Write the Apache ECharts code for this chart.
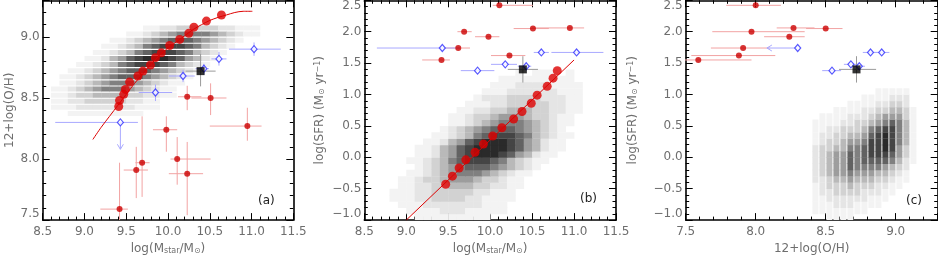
<!DOCTYPE html>
<html><head><meta charset="utf-8">
<script src="https://cdn.jsdelivr.net/npm/echarts@6/dist/echarts.min.js"></script>
<style>html,body{margin:0;padding:0;background:#fff}#c{width:938px;height:260px}</style>
</head><body><div id="c"></div>
<script>
// ---------------- data ----------------
const massTickLabels = ['8.5','9.0','9.5','10.0','10.5','11.0','11.5'];
const ohTickLabels = ['7.5','8.0','8.5','9.0'];
const sfrTickLabels = ['\u22121.0','\u22120.5','0.0','0.5','1.0','1.5','2.0','2.5'];

// (a) fit curve and binned medians
const fitMassA = [9.10,9.20,9.30,9.40,9.50,9.60,9.70,9.80,9.90,10.00,10.10,10.20,10.30,10.40,10.50,10.60,10.70,10.80,10.90,11.01];
const fitOHA   = [8.16,8.26,8.35,8.44,8.53,8.62,8.70,8.78,8.85,8.91,8.96,9.01,9.06,9.10,9.135,9.16,9.18,9.20,9.21,9.21];
const binMassA = [9.41,9.42,9.47,9.49,9.54,9.64,9.70,9.79,9.85,9.92,10.02,10.14,10.25,10.31,10.46,10.64];
const binOHA   = [8.43,8.48,8.53,8.57,8.63,8.68,8.72,8.77,8.83,8.87,8.93,8.98,9.03,9.08,9.13,9.18];

// (b) fit line and binned medians
const fitMassB = [9.0, 11.0];
const fitSfrB  = [-1.0, 1.55];
const binMassB = [9.47,9.55,9.63,9.71,9.82,9.92,10.03,10.14,10.28,10.38,10.49,10.56,10.68,10.75,10.80];
const binSfrB  = [-0.43,-0.30,-0.17,-0.04,0.08,0.21,0.34,0.47,0.61,0.73,0.86,0.99,1.13,1.26,1.38];

// red sample
const redMass   = [10.23,10.51,10.95,9.98,10.11,9.69,9.62,10.23,9.42];
const redMassLo = [10.12,10.28,10.50,9.82,10.03,9.61,9.47,10.01,9.19];
const redMassHi = [10.40,10.70,11.12,10.11,10.51,9.78,9.76,10.42,9.52];
const redOH     = [8.51,8.50,8.27,8.24,8.00,7.97,7.91,7.88,7.59];
const redOHLo   = [8.40,8.36,8.15,8.06,7.79,7.69,7.68,7.54,7.30];
const redOHHi   = [8.60,8.62,8.42,8.35,8.18,8.35,8.10,8.14,7.97];
const redSFR    = [null,2.05,2.06,1.92,2.42,2.00,1.74,1.62,1.55];

// blue sample
const blueMass   = [9.43,9.85,10.18,10.43,10.61,11.03];
const blueMassLo = [8.65,9.65,10.01,10.33,10.52,10.73];
const blueMassHi = [9.64,10.05,10.32,10.49,10.70,11.35];
const blueOH     = [8.30,8.545,8.68,8.74,8.82,8.90];
const blueOHLo   = [8.08,8.475,8.63,8.69,8.765,8.845];
const blueOHHi   = [null,8.61,8.73,8.78,8.877,8.955];
const blueOHUpper = [1,0,0,0,0,0];
const blueSFR    = [1.74,1.38,1.48,1.45,1.67,1.67];

// black reference point
const refMass = [10.39], refMassLo = [10.21], refMassHi = [10.57];
const refOH = [8.72], refOHLo = [8.595], refOHHi = [8.86];
const refSFR = [1.40], refSFRLo = [1.19], refSFRHi = [1.61];

// density maps (digit = grey level 0..9)
// (a): rows = 12+log(O/H) bins from 8.35 step 0.05; columns = mass bins from 8.6 step 0.1
const densA = [
"00111111111000000000000000",
"11122222221110000000000000",
"11223333322110000000000000",
"11233444433221100000000000",
"11234566654321100000000000",
"01123456665432110000000000",
"01123456777654321000000000",
"00112345677765432100000000",
"00011234678887643210000000",
"00001124578999875421000000",
"00000112346788876432100000",
"00000011234678887643210000",
"00000001123456777654321000",
"00000000011234566665432110",
"00000000000112233333221110"];
// (b): rows = log SFR bins from -1.0 step 0.1; columns = mass bins from 8.6 step 0.1
const densB = [
"0000011111111100000000000000",
"0000111122211111000000000000",
"0001112222222111000000000000",
"0011122333322111100000000000",
"0011122333332211100000000000",
"0001122334443322110000000000",
"0001123345554332110000000000",
"0000112345666543211000000000",
"0000012345677765432100000000",
"0000112346788876432110000000",
"0000011245789998754211000000",
"0000011245789999875421100000",
"0000001124578999875421100000",
"0000000112346788876432110000",
"0000000012345677765432100000",
"0000000001123456665432110000",
"0000000001123345554332110000",
"0000000000112233444332211000",
"0000000000011122333332211000",
"0000000000001222333322211000",
"0000000000000111222222111000",
"0000000000000011122221111000",
"0000000000000001111111110000",
"0000000000000000010111010000"];
// (c): columns = 12+log(O/H) bins from 8.40 step 0.05; chars = log SFR bins from -1.0 step 0.1
const densC = [
"011111222222111100000",
"011122233333221110000",
"111223344443322110000",
"112233455554332111000",
"112233455554433211000",
"112234567776543221100",
"011233456666543321100",
"011223456777654322110",
"001123456788876432110",
"001122346788887543211",
"000112345789998653211",
"000011234678888754321",
"000001123455666654321",
"000000112233444433221",
"000000000111111111000"];

// ---------------- chart ----------------
const greys = ['#ffffff','#f3f3f3','#e5e5e5','#d2d2d2','#b9b9b9','#9d9d9d','#808080','#626262','#454545','#2a2a2a'];
const labelColor = '#6e6e6e';
const FONT = 'DejaVu Sans';

function densityData(strings, x0, dx, y0, dy, byRow) {
  const out = [];
  strings.forEach((s, i) => {
    for (let j = 0; j < s.length; j++) {
      const lv = +s[j];
      if (!lv) continue;
      const xi = byRow ? j : i, yi = byRow ? i : j;
      out.push([x0 + xi*dx, x0 + (xi+1)*dx, y0 + yi*dy, y0 + (yi+1)*dy, lv]);
    }
  });
  return out;
}
function densitySeries(gi, data, fx, fy) {
  return {
    type: 'custom', xAxisIndex: gi*2, yAxisIndex: gi*2, clip: true, z: 1, silent: true,
    encode: {x: [0,1], y: [2,3]}, data,
    renderItem(params, api) {
      const a = api.coord([api.value(0), api.value(3)]);
      const b = api.coord([api.value(1), api.value(2)]);
      const w = b[0]-a[0], h = b[1]-a[1];
      return {type: 'rect', shape: {x: a[0] + w*(1-fx)/2, y: a[1] + h*(1-fy)/2, width: w*fx + 0.4, height: h*fy + 0.4},
              style: {fill: greys[api.value(4)]}};
    }
  };
}
const nn = v => (v == null ? NaN : v);
function errSeries(gi, items, color, z) {
  return {
    type: 'custom', xAxisIndex: gi*2, yAxisIndex: gi*2, clip: true, z, silent: true,
    encode: {x: 0, y: 1}, data: items,
    renderItem(params, api) {
      const x = api.value(0), y = api.value(1);
      const xlo = api.value(2), xhi = api.value(3), ylo = api.value(4), yhi = api.value(5), arrow = api.value(6);
      const ch = [];
      const seg = (p, q) => ch.push({type: 'line', shape: {x1: p[0], y1: p[1], x2: q[0], y2: q[1]}, style: {stroke: color, lineWidth: 1}});
      if (!isNaN(xlo)) seg(api.coord([xlo, y]), api.coord([isNaN(xhi) ? x : xhi, y]));
      if (!isNaN(ylo)) seg(api.coord([x, ylo]), api.coord([x, isNaN(yhi) ? y : yhi]));
      if (arrow === 1) { const t = api.coord([x, ylo]); seg([t[0]-3, t[1]-5], t); seg([t[0]+3, t[1]-5], t); }
      if (arrow === 2) { const t = api.coord([xlo, y]); seg([t[0]+5, t[1]-3], t); seg([t[0]+5, t[1]+3], t); }
      return {type: 'group', children: ch};
    }
  };
}
const zip = (a, b) => a.map((v, i) => [v, b[i]]);

// error bar items per panel: [x, y, xlo, xhi, ylo, yhi, arrow]
const redErrA = redMass.map((m, i) => [m, redOH[i], redMassLo[i], redMassHi[i], redOHLo[i], redOHHi[i], 0]);
const redErrB = redMass.map((m, i) => [m, nn(redSFR[i]), redMassLo[i], redMassHi[i], NaN, NaN, 0]).filter(d => !isNaN(d[1]));
const redErrC = redOH.map((o, i) => [o, nn(redSFR[i]), redOHLo[i], redOHHi[i], NaN, NaN, 0]).filter(d => !isNaN(d[1]));
const blueErrA = blueMass.map((m, i) => [m, blueOH[i], blueMassLo[i], blueMassHi[i], blueOHLo[i], nn(blueOHHi[i]), blueOHUpper[i] ? 1 : 0]);
const blueErrB = blueMass.map((m, i) => [m, blueSFR[i], blueMassLo[i], blueMassHi[i], NaN, NaN, 0]);
const blueErrC = blueOH.map((o, i) => [o, blueSFR[i], blueOHLo[i], nn(blueOHHi[i]), NaN, NaN, blueOHUpper[i] ? 2 : 0]);
const refErrA = refMass.map((m, i) => [m, refOH[i], refMassLo[i], refMassHi[i], refOHLo[i], refOHHi[i], 0]);
const refErrB = refMass.map((m, i) => [m, refSFR[i], refMassLo[i], refMassHi[i], refSFRLo[i], refSFRHi[i], 0]);
const refErrC = refOH.map((o, i) => [o, refSFR[i], refOHLo[i], refOHHi[i], refSFRLo[i], refSFRHi[i], 0]);

const RED = '#cc0000', REDERR = '#f2a3a3', BLUE = '#2e2eff', BLUEERR = '#a9a9ff', REFERR = '#9a9a9a';

function pts(gi, data, opts) {
  return Object.assign({type: 'scatter', xAxisIndex: gi*2, yAxisIndex: gi*2, data, silent: true}, opts);
}

const richName = {
  t: {fontSize: 12, color: labelColor, fontFamily: FONT},
  s: {fontSize: 8, color: labelColor, fontFamily: FONT, verticalAlign: 'bottom', lineHeight: 9},
  p: {fontSize: 8, color: labelColor, fontFamily: FONT, verticalAlign: 'top', lineHeight: 9}
};

function mkAxis(dim, gi, min, max, labels, side, name, nameGap, extra) {
  const main = side === 'bottom' || side === 'left';
  const ax = {
    type: 'value', gridIndex: gi, min, max, interval: 0.5, position: side,
    axisLine: {onZero: false, lineStyle: {color: '#000', width: 1.6}},
    axisTick: {inside: true, length: 7, lineStyle: {color: '#000', width: 1}},
    minorTick: {show: true, splitNumber: 5, length: 3.5, lineStyle: {color: '#000', width: 1}},
    splitLine: {show: false}, minorSplitLine: {show: false},
    axisLabel: {show: main, color: labelColor, fontFamily: FONT, fontSize: 12,
      margin: dim === 'x' ? 6 : 3, showMaxLabel: extra && extra.hideMax ? false : null,
      formatter: v => { const k = Math.round((v - min) / 0.5); return Math.abs(min + k*0.5 - v) < 1e-6 ? (labels[k] || '') : ''; }}
  };
  if (dim === 'y' && main) {
    ax.axisLabel.verticalAlignMinLabel = 'bottom';
    ax.axisLabel.verticalAlignMaxLabel = 'top';
  }
  if (main && name) {
    ax.name = name; ax.nameLocation = 'middle'; ax.nameGap = nameGap;
    ax.nameTextStyle = {color: labelColor, fontFamily: FONT, fontSize: 12, rich: richName};
  }
  return ax;
}

const massName = '{t|log(M}{s|star}{t|/M}{s|\u2299}{t|)}';
const sfrName = '{t|log(SFR) (M}{s|\u2299}{t| yr}{p|\u22121}{t|)}';
const ohName = '{t|12+log(O/H)}';

const option = {
  animation: false,
  textStyle: {fontFamily: FONT},
  grid: [
    {left: 42.7, top: 0.3, width: 250.6, height: 224},
    {left: 364.3, top: 0.3, width: 251.7, height: 224},
    {left: 685.7, top: 0.3, width: 252, height: 224}
  ],
  xAxis: [
    mkAxis('x', 0, 8.5, 11.5, massTickLabels, 'bottom', massName, 22),
    mkAxis('x', 0, 8.5, 11.5, massTickLabels, 'top'),
    mkAxis('x', 1, 8.5, 11.5, massTickLabels, 'bottom', massName, 22),
    mkAxis('x', 1, 8.5, 11.5, massTickLabels, 'top'),
    mkAxis('x', 2, 7.5, 9.3, ohTickLabels, 'bottom', ohName, 22, {hideMax: true}),
    mkAxis('x', 2, 7.5, 9.3, ohTickLabels, 'top')
  ],
  yAxis: [
    mkAxis('y', 0, 7.5, 9.3, ohTickLabels, 'left', ohName, 27, {hideMax: true}),
    mkAxis('y', 0, 7.5, 9.3, ohTickLabels, 'right'),
    mkAxis('y', 1, -1.0, 2.5, sfrTickLabels, 'left', sfrName, 38),
    mkAxis('y', 1, -1.0, 2.5, sfrTickLabels, 'right'),
    mkAxis('y', 2, -1.0, 2.5, sfrTickLabels, 'left', sfrName, 47),
    mkAxis('y', 2, -1.0, 2.5, sfrTickLabels, 'right')
  ],
  graphic: [
    {type: 'text', left: 258, top: 195, style: {text: '(a)', font: '12px "DejaVu Sans"', fill: '#222'}},
    {type: 'text', left: 580, top: 193, style: {text: '(b)', font: '12px "DejaVu Sans"', fill: '#222'}},
    {type: 'text', left: 906, top: 195, style: {text: '(c)', font: '12px "DejaVu Sans"', fill: '#222'}}
  ],
  series: [
    // panel (a)
    densitySeries(0, densityData(densA, 8.6, 0.1, 8.35, 0.05, true), 1, 0.75),
    errSeries(0, redErrA, REDERR, 2),
    errSeries(0, blueErrA, BLUEERR, 2),
    errSeries(0, refErrA, REFERR, 2),
    {type: 'line', xAxisIndex: 0, yAxisIndex: 0, data: zip(fitMassA, fitOHA), smooth: 0.3, showSymbol: false, lineStyle: {color: '#dd0000', width: 1}, z: 3, silent: true},
    pts(0, zip(binMassA, binOHA), {symbol: 'circle', symbolSize: 9, itemStyle: {color: '#dd0000'}, z: 4}),
    pts(0, zip(redMass, redOH), {symbol: 'circle', symbolSize: 6, itemStyle: {color: RED}, z: 5}),
    pts(0, zip(blueMass, blueOH), {symbol: 'diamond', symbolSize: [6, 7], itemStyle: {color: '#fff', borderColor: BLUE, borderWidth: 1.2}, z: 5}),
    pts(0, zip(refMass, refOH), {symbol: 'rect', symbolSize: 8, itemStyle: {color: '#000'}, z: 6}),
    // panel (b)
    densitySeries(1, densityData(densB, 8.6, 0.1, -1.0, 0.1, true), 1, 1),
    errSeries(1, redErrB, REDERR, 2),
    errSeries(1, blueErrB, BLUEERR, 2),
    errSeries(1, refErrB, REFERR, 2),
    {type: 'line', xAxisIndex: 2, yAxisIndex: 2, data: zip(fitMassB, fitSfrB), showSymbol: false, lineStyle: {color: '#dd0000', width: 1}, z: 3, silent: true},
    pts(1, zip(binMassB, binSfrB), {symbol: 'circle', symbolSize: 9, itemStyle: {color: '#dd0000'}, z: 4}),
    pts(1, zip(redMass, redSFR).filter(d => d[1] != null), {symbol: 'circle', symbolSize: 6, itemStyle: {color: RED}, z: 5}),
    pts(1, zip(blueMass, blueSFR), {symbol: 'diamond', symbolSize: [6, 7], itemStyle: {color: '#fff', borderColor: BLUE, borderWidth: 1.2}, z: 5}),
    pts(1, zip(refMass, refSFR), {symbol: 'rect', symbolSize: 8, itemStyle: {color: '#000'}, z: 6}),
    // panel (c)
    densitySeries(2, densityData(densC, 8.40, 0.05, -1.0, 0.1, false), 0.8, 1),
    errSeries(2, redErrC, REDERR, 2),
    errSeries(2, blueErrC, BLUEERR, 2),
    errSeries(2, refErrC, REFERR, 2),
    pts(2, zip(redOH, redSFR).filter(d => d[1] != null), {symbol: 'circle', symbolSize: 6, itemStyle: {color: RED}, z: 5}),
    pts(2, zip(blueOH, blueSFR), {symbol: 'diamond', symbolSize: [6, 7], itemStyle: {color: '#fff', borderColor: BLUE, borderWidth: 1.2}, z: 5}),
    pts(2, zip(refOH, refSFR), {symbol: 'rect', symbolSize: 8, itemStyle: {color: '#000'}, z: 6})
  ]
};
const chart = echarts.init(document.getElementById('c'), null, {renderer: 'canvas'});
chart.setOption(option);
</script></body></html>
